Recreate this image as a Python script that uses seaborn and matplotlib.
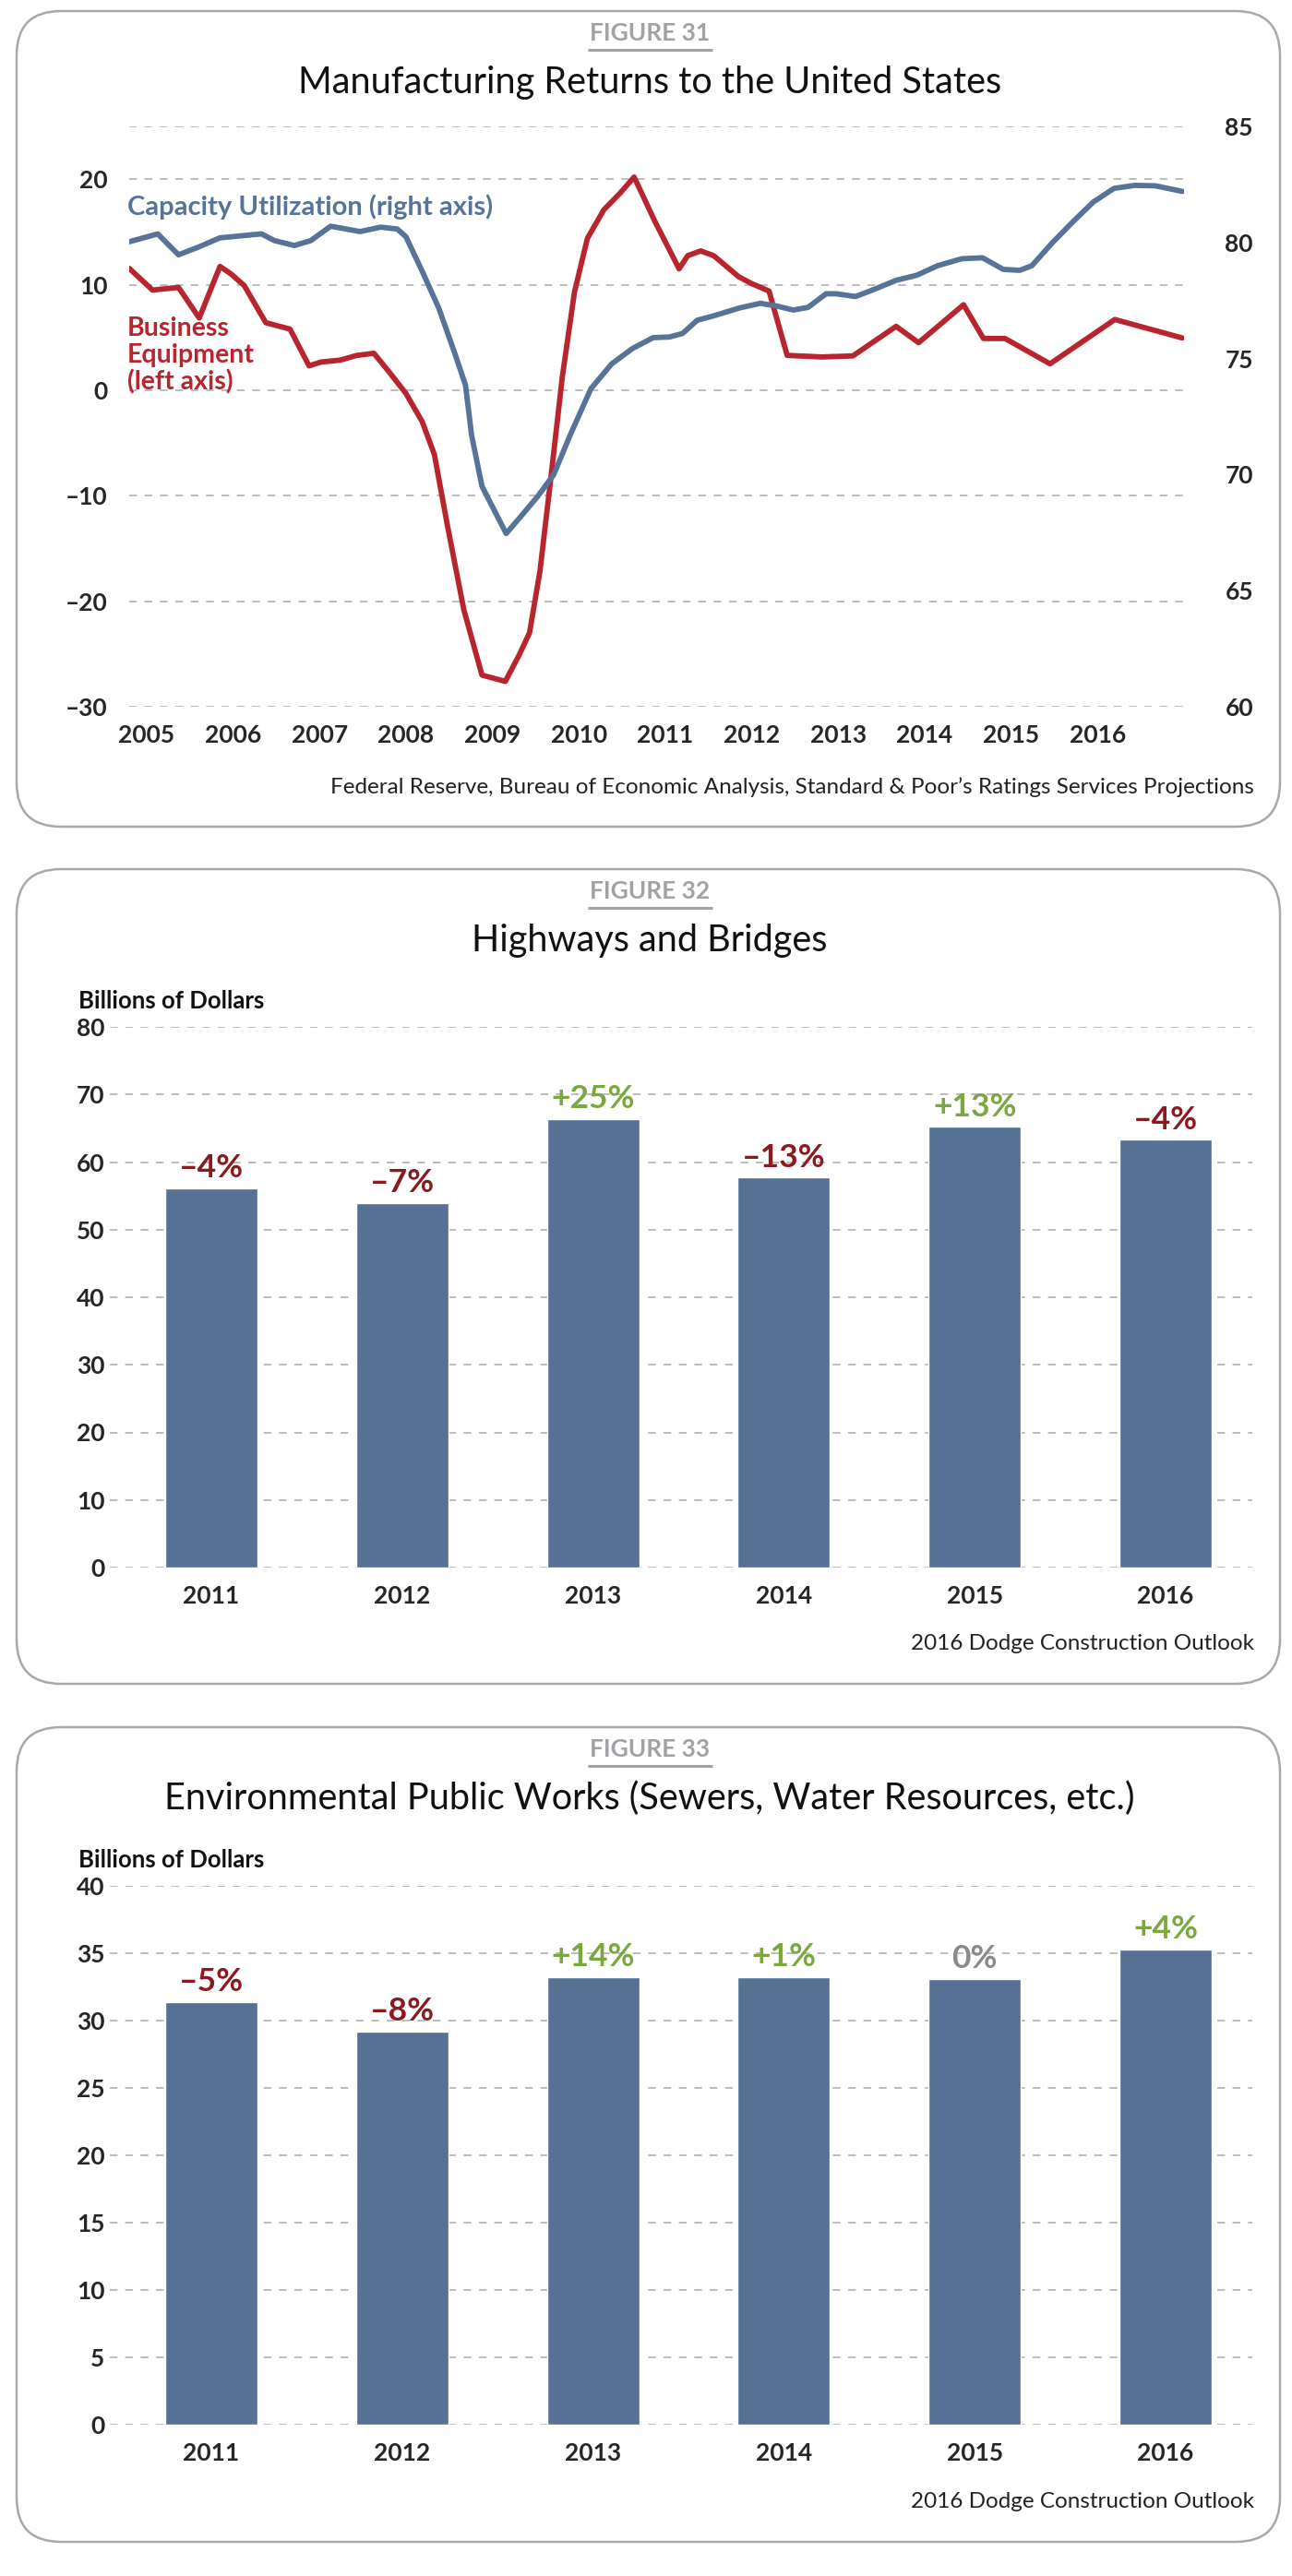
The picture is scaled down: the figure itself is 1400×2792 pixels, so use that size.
import numpy as np
import pandas as pd
import matplotlib
matplotlib.use("Agg")
import matplotlib.pyplot as plt
import seaborn as sns
from matplotlib.patches import FancyBboxPatch

# ------------------------------------------------------------------ data
# Figure 31 (x in years as positioned against the year labels)
be_x = [2004.80, 2005.07, 2005.37, 2005.61, 2005.85, 2005.98, 2006.13, 2006.38,
        2006.66, 2006.88, 2007.02, 2007.24, 2007.43, 2007.63, 2007.81, 2008.00,
        2008.19, 2008.33, 2008.48, 2008.67, 2008.88, 2009.15, 2009.31, 2009.43,
        2009.55, 2009.67, 2009.81, 2009.95, 2010.10, 2010.29, 2010.48, 2010.64,
        2010.88, 2011.16, 2011.26, 2011.41, 2011.56, 2011.85, 2012.00, 2012.20,
        2012.41, 2012.81, 2013.17, 2013.67, 2013.93, 2014.45, 2014.68, 2014.93,
        2015.45, 2016.20, 2016.98]
be_y = [11.55, 9.49, 9.74, 6.84, 11.73, 11.0, 9.92, 6.40,
        5.79, 2.31, 2.67, 2.85, 3.29, 3.50, 1.69, -0.30,
        -3.0, -6.1, -12.8, -20.8, -27.0, -27.6, -25.1, -23.0,
        -17.2, -8.8, 1.3, 9.3, 14.4, 17.1, 18.7, 20.2,
        16.0, 11.5, 12.75, 13.2, 12.75, 10.75, 10.1, 9.4,
        3.3, 3.15, 3.25, 6.05, 4.5, 8.1, 4.9, 4.9,
        2.5, 6.7, 4.95]
cu_x = [2004.80, 2005.13, 2005.37, 2005.60, 2005.85, 2006.33, 2006.48, 2006.71,
        2006.90, 2007.13, 2007.47, 2007.71, 2007.90, 2008.00, 2008.19, 2008.38,
        2008.57, 2008.69, 2008.76, 2008.88, 2009.16, 2009.33, 2009.52, 2009.71,
        2009.90, 2010.14, 2010.38, 2010.62, 2010.86, 2011.05, 2011.20, 2011.37,
        2011.56, 2011.86, 2012.10, 2012.29, 2012.48, 2012.65, 2012.86, 2012.98,
        2013.20, 2013.43, 2013.67, 2013.91, 2014.15, 2014.43, 2014.67, 2014.91,
        2015.10, 2015.24, 2015.48, 2015.72, 2015.95, 2016.19, 2016.43, 2016.67,
        2016.98]
cu_y = [80.03, 80.37, 79.47, 79.80, 80.20, 80.37, 80.08, 79.87,
        80.08, 80.70, 80.47, 80.66, 80.58, 80.25, 78.75, 77.18,
        75.18, 73.85, 71.70, 69.50, 67.46, 68.20, 69.04, 70.00,
        71.70, 73.70, 74.77, 75.43, 75.90, 75.93, 76.08, 76.65,
        76.84, 77.18, 77.38, 77.26, 77.09, 77.20, 77.79, 77.79,
        77.67, 78.00, 78.37, 78.59, 79.00, 79.30, 79.34, 78.84,
        78.80, 79.00, 80.00, 80.91, 81.74, 82.33, 82.46, 82.44,
        82.20]
line_years = list(range(2005, 2017))
left_ticks = [-30, -20, -10, 0, 10, 20]
right_ticks = [60, 65, 70, 75, 80, 85]

# Figures 32 / 33
bar_years = ["2011", "2012", "2013", "2014", "2015", "2016"]
hwy_values = [56.1, 53.9, 66.4, 57.7, 65.2, 63.3]
hwy_changes = ["\u20134%", "\u20137%", "+25%", "\u201313%", "+13%", "\u20134%"]
env_values = [31.4, 29.2, 33.2, 33.25, 33.1, 35.3]
env_changes = ["\u20135%", "\u20138%", "+14%", "+1%", "0%", "+4%"]
hwy_ticks = [0, 10, 20, 30, 40, 50, 60, 70, 80]
env_ticks = [0, 5, 10, 15, 20, 25, 30, 35, 40]

# ------------------------------------------------------------------ style
sns.set_theme(style="white")
plt.rcParams["font.family"] = ["Lato", "DejaVu Sans"]
plt.rcParams["lines.scale_dashes"] = False

W, H = 1400, 2792
fig = plt.figure(figsize=(W / 100, H / 100), dpi=100)
fig.patch.set_facecolor("white")

BLUE_LINE = "#587398"
RED_LINE = "#b8252f"
BAR = "#577194"
NEG = "#8b1a1f"
POS = "#7aa83e"
ZERO = "#8a8a8a"
GRID = "#aaaaaa"
BORDER = "#a9a9ad"
DASH = (0, (6, 6))
TICK_FS = 19


def rect(x0, y0, x1, y1):
    return [x0 / W, (H - y1) / H, (x1 - x0) / W, (y1 - y0) / H]


def style_grid(ax):
    ax.set_axisbelow(True)
    ax.yaxis.grid(True, color=GRID, linestyle=DASH, linewidth=1.1)
    ax.xaxis.grid(False)
    for s in ax.spines.values():
        s.set_visible(False)
    ax.set_facecolor("none")


# overlay axes in pixel coordinates for frames and texts
bg = fig.add_axes([0, 0, 1, 1], zorder=10)
bg.set_xlim(0, W)
bg.set_ylim(H, 0)
bg.axis("off")
bg.patch.set_visible(False)


def panel(y0, y1, fignum, title, source):
    bg.add_patch(FancyBboxPatch((18, y0), 1369, y1 - y0,
                                boxstyle="round,pad=0,rounding_size=48",
                                fill=False, edgecolor=BORDER, linewidth=1.8))
    bg.text(704, y0 + 24, fignum, ha="center", va="center", fontsize=19,
            fontweight="bold", color="#a2a2a6")
    bg.plot([637, 772], [y0 + 42, y0 + 42], color="#a2a2a6", linewidth=2.2,
            solid_capstyle="butt")
    bg.text(704, y0 + 77, title, ha="center", va="center", fontsize=28.5,
            fontweight="normal", color="#111111")
    bg.text(1359, y1 - 43, source, ha="right", va="center", fontsize=17.5,
            color="#222222")


# ------------------------------------------------------------------ Figure 31
panel(12, 896, "FIGURE 31", "Manufacturing Returns to the United States",
      "Federal Reserve, Bureau of Economic Analysis, Standard & Poor\u2019s Ratings Services Projections")

ax_be = fig.add_axes(rect(140, 137, 1283, 766))
style_grid(ax_be)
sns.lineplot(x=be_x, y=be_y, ax=ax_be, color=RED_LINE, linewidth=4.2,
             sort=False, estimator=None)
ax_be.set_xlim(2004.8, 2017.0)
ax_be.set_ylim(-30, 25)
ax_be.axhline(25, color=GRID, linestyle=DASH, linewidth=1.1, zorder=0.5)
ax_be.set_yticks(left_ticks, labels=[str(t).replace("-", "\u2013") for t in left_ticks],
                 fontsize=TICK_FS, fontweight="bold")
ax_be.set_xticks(line_years, labels=[str(y) for y in line_years],
                 fontsize=TICK_FS, fontweight="bold")
ax_be.tick_params(axis="y", length=0, pad=17)
ax_be.tick_params(axis="x", length=0, pad=14)
ax_be.set_xlabel("")
ax_be.set_ylabel("")

ax_cu = ax_be.twinx()
for s in ax_cu.spines.values():
    s.set_visible(False)
sns.lineplot(x=cu_x, y=cu_y, ax=ax_cu, color=BLUE_LINE, linewidth=4.2,
             sort=False, estimator=None)
ax_cu.set_ylim(60, 85)
ax_cu.set_yticks(right_ticks, labels=[str(t) for t in right_ticks],
                 fontsize=TICK_FS, fontweight="bold")
ax_cu.tick_params(axis="y", length=0, pad=32)
ax_cu.grid(False)
ax_cu.set_ylabel("")
for lbl in ax_cu.get_yticklabels():
    lbl.set_horizontalalignment("left")

bg.text(138, 233, "Capacity Utilization (right axis)", ha="left", va="baseline",
        fontsize=21, fontweight="bold", color=BLUE_LINE)
for i, t in enumerate(["Business", "Equipment", "(left axis)"]):
    bg.text(138, 364 + 29 * i, t, ha="left", va="baseline", fontsize=20.5,
            fontweight="bold", color=RED_LINE)


# ------------------------------------------------------------------ bar figures
def bar_figure(y0, y1, ax_y0, ax_y1, fignum, title, values, changes, ticks, ymax):
    panel(y0, y1, fignum, title, "2016 Dodge Construction Outlook")
    ax = fig.add_axes(rect(119, ax_y0, 1357, ax_y1))
    style_grid(ax)
    df = pd.DataFrame({"year": bar_years, "value": values})
    sns.barplot(data=df, x="year", y="value", ax=ax, color=BAR, saturation=1,
                width=0.484, order=bar_years)
    ax.set_xlim(-0.532, 5.455)
    ax.set_ylim(0, ymax)
    ax.set_yticks(ticks, labels=[str(t) for t in ticks], fontsize=TICK_FS,
                  fontweight="bold")
    ax.set_xticks(range(len(bar_years)), labels=bar_years, fontsize=TICK_FS,
                  fontweight="bold")
    ax.tick_params(axis="y", length=0, pad=4)
    ax.tick_params(axis="x", length=0, pad=14)
    ax.set_xlabel("")
    ax.set_ylabel("")
    for i, (v, c) in enumerate(zip(values, changes)):
        col = POS if c.startswith("+") else (ZERO if c == "0%" else NEG)
        ax.annotate(c, (i, v), xytext=(0, 8.5), textcoords="offset points",
                    ha="center", va="baseline", fontsize=25.5, fontweight="bold",
                    color=col)
    bg.text(85, ax_y0 - 28, "Billions of Dollars", ha="left", va="center",
            fontsize=18.5, fontweight="bold", color="#111111")


bar_figure(942, 1825, 1113, 1699, "FIGURE 32", "Highways and Bridges",
           hwy_values, hwy_changes, hwy_ticks, 80)
bar_figure(1872, 2755, 2044, 2628, "FIGURE 33",
           "Environmental Public Works (Sewers, Water Resources, etc.)",
           env_values, env_changes, env_ticks, 40)

fig.savefig("out.png", dpi=100, facecolor="white")
